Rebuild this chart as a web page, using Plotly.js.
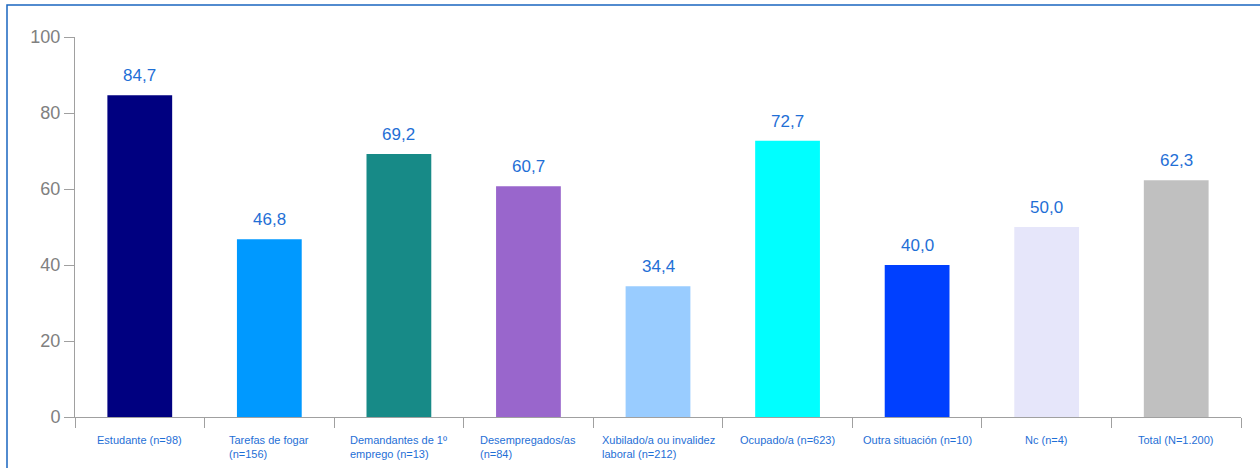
<!DOCTYPE html>
<html><head><meta charset="utf-8">
<script src="https://cdn.plot.ly/plotly-3.0.1.min.js"></script>
<style>html,body{margin:0;padding:0;background:#fff}#chart{width:1260px;height:468px}</style>
</head><body><div id="chart"></div>
<script>
const categories = ["Estudante (n=98)", "Tarefas de fogar<br>(n=156)", "Demandantes de 1º<br>emprego (n=13)", "Desempregados/as<br>(n=84)", "Xubilado/a ou invalidez<br>laboral (n=212)", "Ocupado/a (n=623)", "Outra situación (n=10)", "Nc (n=4)", "Total (N=1.200)"];
const values = [84.7, 46.8, 69.2, 60.7, 34.4, 72.7, 40.0, 50.0, 62.3];
const colors = ["#000080", "#0099ff", "#178a87", "#9966cc", "#99ccff", "#00ffff", "#0040ff", "#e6e6fa", "#c0c0c0"];
const yTicks = [0, 20, 40, 60, 80, 100];

const fmt = v => v.toFixed(1).replace('.', ',');
const labelColor = "#1f6fd6";

const annotations = [];
categories.forEach((c, i) => {
  annotations.push({x: i, y: values[i], xref: 'x', yref: 'y', text: fmt(values[i]), showarrow: false,
    yanchor: 'bottom', yshift: 8, font: {family: 'Liberation Sans, Arial', size: 17, color: labelColor}});
  annotations.push({x: i, y: -0.04, xref: 'x', yref: 'paper', text: c, showarrow: false, align: 'left',
    yanchor: 'top', font: {family: 'Liberation Sans, Arial', size: 11, color: labelColor}});
});

const trace = {type: 'bar', x: categories.map((c, i) => i), y: values, marker: {color: colors}, width: 0.5,
  hoverinfo: 'none'};

const layout = {
  width: 1260, height: 468,
  margin: {l: 75, r: 19, t: 37, b: 51},
  paper_bgcolor: '#fff', plot_bgcolor: '#fff',
  showlegend: false,
  xaxis: {range: [-0.5, 8.5], tickmode: 'array', tickvals: [-0.5, 0.5, 1.5, 2.5, 3.5, 4.5, 5.5, 6.5, 7.5, 8.5],
    showticklabels: false, ticks: 'outside', ticklen: 10, tickcolor: '#a0a0a0', showline: true, linecolor: '#a0a0a0',
    linewidth: 1, showgrid: false, zeroline: false, fixedrange: true},
  yaxis: {range: [0, 100], tickvals: yTicks, ticks: 'outside', ticklen: 10, tickcolor: '#a0a0a0', showline: true,
    linecolor: '#a0a0a0', linewidth: 1, showgrid: false, zeroline: false,
    tickfont: {family: 'Liberation Sans, Arial', size: 18, color: '#808080'}, fixedrange: true},
  annotations: annotations,
  shapes: [{type: 'rect', xref: 'paper', yref: 'paper', x0: (7 - 75) / 1166, x1: 1.2, y0: -0.3, y1: (417 - 5) / 380,
    line: {color: '#1a66c0', width: 1.5}, fillcolor: 'rgba(0,0,0,0)', layer: 'above'}]
};

Plotly.newPlot('chart', [trace], layout, {displayModeBar: false, staticPlot: true});
</script></body></html>
